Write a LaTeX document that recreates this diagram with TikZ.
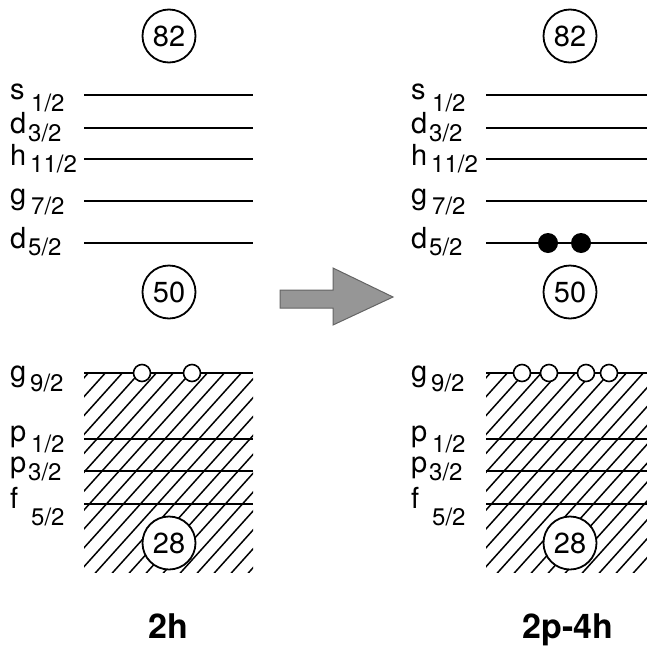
\documentclass[tikz,border=0pt]{standalone}
\usepackage{fontspec}
\setmainfont{TeX Gyre Heros}
\definecolor{arrowfill}{RGB}{150,150,150}
\definecolor{arrowedge}{RGB}{100,100,100}
\begin{document}
\begin{tikzpicture}[x=1pt,y=-1pt,
  level/.style={line width=2.8pt},
  magic/.style={circle,draw,line width=1.8pt,fill=white,minimum size=53pt,inner sep=0pt,
                font=\fontsize{29}{29}\selectfont},
  hole/.style={circle,draw,line width=1.6pt,fill=white,minimum size=17pt,inner sep=0pt},
  particle/.style={circle,fill=black,minimum size=20pt,inner sep=0pt},
  orb/.style={anchor=base west,inner sep=0pt,font=\fontsize{29}{29}\selectfont},
  subs/.style={anchor=base west,inner sep=0pt,font=\fontsize{24}{24}\selectfont},
  caption/.style={anchor=base,inner sep=0pt,font=\fontsize{34}{34}\selectfont\bfseries},
  hatch/.style={line width=1.5pt}]

\useasboundingbox (0,0) rectangle (647,645);

% orbital label: name, x offset, letter, line y, letter drop, sub x, subscript, sub drop
\newcommand\orbital[8]{%
  \node[orb]  (#1)     at (#2+10,#4+#5) {#3};
  \node[subs] (#1-sub) at (#2+#6,#4+#8) {#7};}

% ---------- one panel: labels, hatched core, levels ----------
\foreach \side/\dx/\xa/\xb in {L/0/84/253, R/401/486/660}{
  % filled core below N=50
  \begin{scope}
    \clip (\xa,373) rectangle (\xb,572);
    \foreach \k in {0,...,30}
      \draw[hatch] (\xa-234+17*\k,600) -- ++(234,-260);
  \end{scope}
  % single-particle levels
  \foreach \y in {95,128,159,201,243,373,439,471,504}
    \draw[level] (\xa,\y) -- (\xb,\y);
  % labels
  \orbital{s12\side}{\dx}{s}{95}{4}{31}{1/2}{16}
  \orbital{d32\side}{\dx}{d}{128}{5}{28}{3/2}{13}
  \orbital{h112\side}{\dx}{h}{159}{6}{30}{11/2}{13}
  \orbital{g72\side}{\dx}{g}{201}{3}{31}{7/2}{13}
  \orbital{d52\side}{\dx}{d}{243}{5}{28}{5/2}{12}
  \orbital{g92\side}{\dx}{g}{373}{8}{30}{9/2}{18}
  \orbital{p12\side}{\dx}{p}{439}{2}{31}{1/2}{13}
  \orbital{p32\side}{\dx}{p}{471}{1}{28}{3/2}{9}
  \orbital{f52\side}{\dx}{f}{504}{4}{31}{5/2}{21}
  % shell closures
  \node[magic] (n82\side) at (\dx+169,36)  {82};
  \node[magic] (n50\side) at (\dx+169,292) {50};
  \node[magic] (n28\side) at (\dx+169,543) {28};
}

% holes and particles
\node[hole] (hL1) at (142,373) {};
\node[hole] (hL2) at (192,373) {};
\node[hole] (hR1) at (522,373) {};
\node[hole] (hR2) at (549,373) {};
\node[hole] (hR3) at (586,373) {};
\node[hole] (hR4) at (609,373) {};
\node[particle] (pR1) at (548,243) {};
\node[particle] (pR2) at (581,243) {};

% excitation arrow
\filldraw[fill=arrowfill,draw=arrowedge,line width=1pt]
  (280,290) -- (333,290) -- (333,268) -- (393,297) -- (333,325) -- (333,308) -- (280,308) -- cycle;

% configuration names
\node[caption] (cfgL) at (168,638) {2h};
\node[caption] (cfgR) at (568,638) {2p-4h};
\end{tikzpicture}
\end{document}
